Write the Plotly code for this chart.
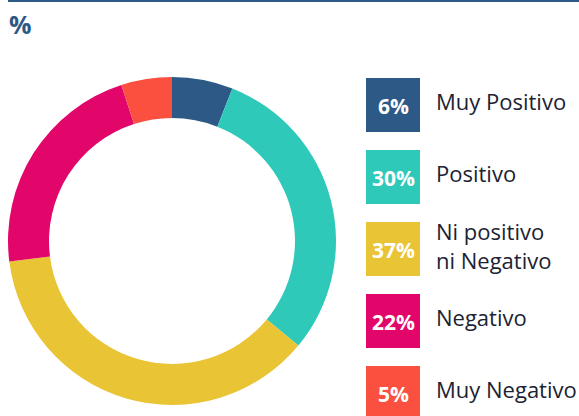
import plotly.graph_objects as go

categories = ["Muy Positivo", "Positivo", "Ni positivo<br>ni Negativo", "Negativo", "Muy Negativo"]
values = [6, 30, 37, 22, 5]
pct_labels = ["6%", "30%", "37%", "22%", "5%"]
colors = ["#2d5986", "#2ec9b8", "#e9c434", "#e2066a", "#fb5040"]

W, H = 579, 416

def px(x):
    return x / W

def py(y):
    return 1 - y / H

fig = go.Figure()
fig.add_trace(go.Pie(
    values=values,
    labels=[c.replace("<br>", " ") for c in categories],
    marker=dict(colors=colors, line=dict(width=0)),
    hole=0.75,
    sort=False,
    direction="clockwise",
    rotation=0,
    textinfo="none",
    hoverinfo="label+percent",
    showlegend=False,
    domain=dict(x=[px(8), px(336)], y=[py(405), py(77)]),
))

shapes = [dict(type="line", xref="paper", yref="paper", x0=px(8), x1=1, y0=py(1), y1=py(1),
               line=dict(color="#2d5986", width=2))]
annotations = [dict(text="<b>%</b>", xref="paper", yref="paper", x=px(7), y=py(24),
                    xanchor="left", yanchor="middle", showarrow=False,
                    font=dict(family="Open Sans", size=25, color="#2d5986"))]

for i, (cat, pct, col) in enumerate(zip(categories, pct_labels, colors)):
    top = 78 + 72 * i
    bottom = top + 54
    cy = (top + bottom) / 2
    shapes.append(dict(type="rect", xref="paper", yref="paper",
                       x0=px(366), x1=px(420), y0=py(bottom), y1=py(top),
                       fillcolor=col, line=dict(width=0), layer="above"))
    annotations.append(dict(text="<b>" + pct + "</b>", xref="paper", yref="paper",
                            x=px(393), y=py(cy + 1), xanchor="center", yanchor="middle",
                            showarrow=False,
                            font=dict(family="Open Sans", size=21, color="white")))
    annotations.append(dict(text=cat, xref="paper", yref="paper",
                            x=px(434), y=py(cy - 4), xanchor="left", yanchor="middle",
                            align="left", showarrow=False,
                            font=dict(family="Open Sans", size=22, weight=500, color="#1b2333")))

fig.update_layout(
    width=W, height=H,
    margin=dict(l=0, r=0, t=0, b=0),
    paper_bgcolor="white", plot_bgcolor="white",
    shapes=shapes, annotations=annotations,
)

fig.write_html("out.html", config={"displayModeBar": False},
               post_script="document.body.style.margin='0';")
